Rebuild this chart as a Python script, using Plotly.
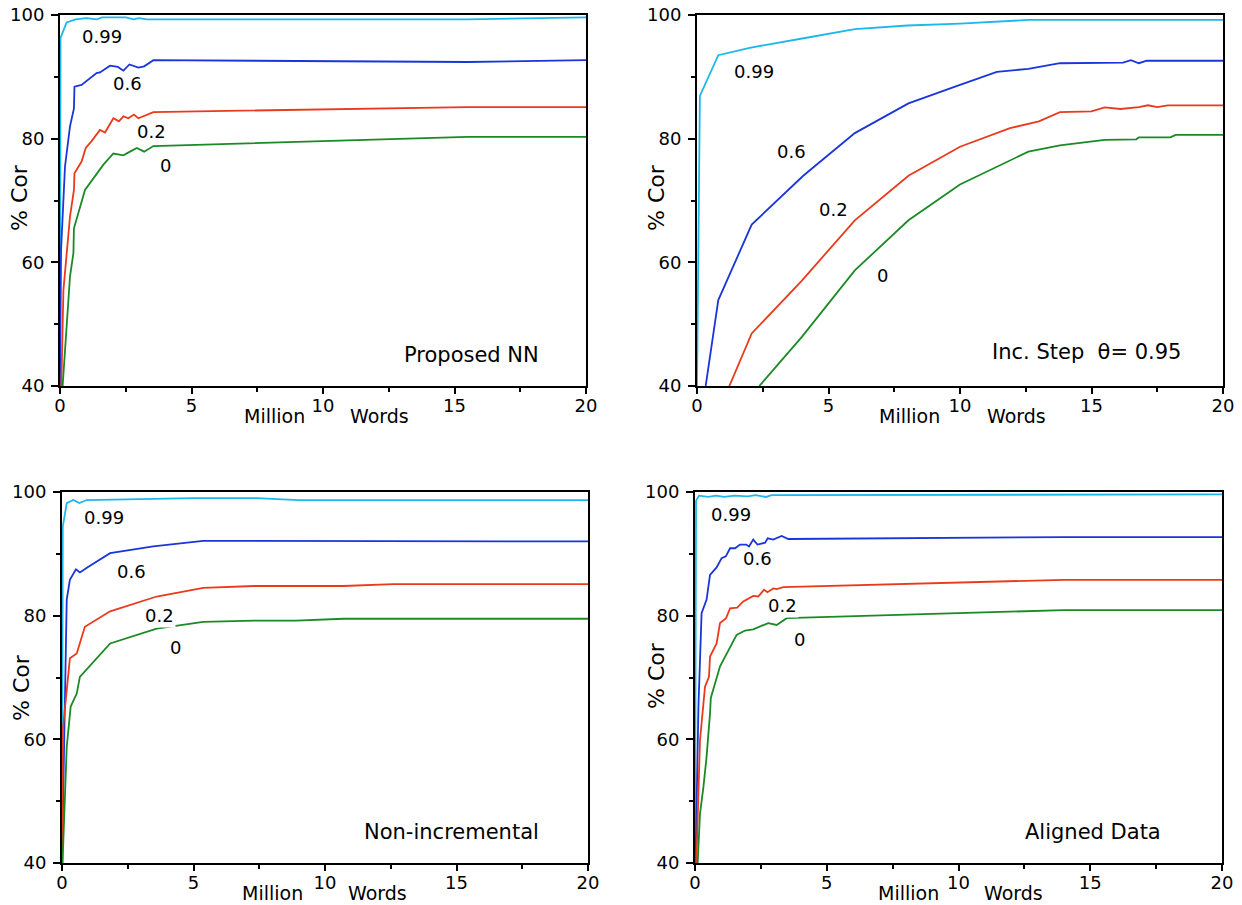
import plotly.graph_objects as go

W, H = 1242, 905
OX, OY = 0, 0            # body margin removed via post_script
FW, FH = W - 2 * OX, H - 2 * OY

# ---------------- data ----------------
series_names = ["0.99", "0.6", "0.2", "0"]
series_colors = ["#1cb8ec", "#1a35d9", "#ea3a1c", "#1a8a25"]
panel_captions = ["Proposed NN", "Inc. Step  \u03b8= 0.95", "Non-incremental", "Aligned Data"]
x_ticks = [0, 5, 10, 15, 20]
x_tick_labels = ["0", "5", "10", "15", "20"]
y_ticks = [40, 60, 80, 100]
y_tick_labels = ["40", "60", "80", "100"]

# Panel 1: Proposed NN
nn_x_099 = [0, 0.02, 0.25, 0.6, 1.0, 1.4, 1.6, 2.5, 2.8, 3.0, 3.3, 15.5, 20]
nn_y_099 = [40, 96.3, 98.8, 99.3, 99.5, 99.3, 99.6, 99.6, 99.3, 99.5, 99.3, 99.3, 99.6]
nn_x_06 = [0, 0.04, 0.19, 0.38, 0.53, 0.55, 0.82, 1.39, 1.52, 1.9, 2.2, 2.41, 2.64, 2.98, 3.2, 3.55, 15.5, 20]
nn_y_06 = [40, 62, 75.5, 82, 84.9, 88.4, 88.7, 90.6, 90.7, 91.8, 91.6, 91.0, 92.0, 91.5, 91.7, 92.7, 92.4, 92.7]
nn_x_02 = [0.05, 0.13, 0.38, 0.53, 0.55, 0.82, 0.98, 1.2, 1.52, 1.71, 2.03, 2.24, 2.41, 2.6, 2.81, 2.98, 3.55, 15.5, 20]
nn_y_02 = [40, 55.5, 67.4, 71.7, 74.4, 76.3, 78.5, 79.6, 81.4, 81.0, 83.3, 82.8, 83.6, 83.3, 83.9, 83.3, 84.3, 85.1, 85.1]
nn_x_0 = [0.1, 0.38, 0.51, 0.53, 0.95, 1.27, 1.65, 2.03, 2.41, 2.66, 2.92, 3.2, 3.55, 15.5, 20]
nn_y_0 = [40, 57.7, 61.5, 65.5, 71.7, 73.6, 75.8, 77.6, 77.3, 77.9, 78.5, 77.9, 78.8, 80.3, 80.3]

# Panel 2: Inc. Step
inc_x_099 = [0, 0.11, 0.81, 2.0, 4.0, 6.0, 8.0, 10, 12.6, 20]
inc_y_099 = [40, 86.9, 93.5, 94.7, 96.2, 97.7, 98.3, 98.6, 99.2, 99.2]
inc_x_06 = [0.33, 0.81, 2.08, 4.04, 6.0, 8.04, 10, 11.4, 12.6, 13.8, 16.2, 16.5, 16.8, 17.1, 20]
inc_y_06 = [40, 53.9, 66.1, 74.0, 80.9, 85.7, 88.7, 90.8, 91.3, 92.2, 92.3, 92.7, 92.2, 92.6, 92.6]
inc_x_02 = [1.23, 2.08, 3.98, 6.0, 8.04, 10, 11.9, 13.0, 13.8, 15.0, 15.5, 16.1, 16.8, 17.15, 17.5, 17.9, 20]
inc_y_02 = [40, 48.5, 57.0, 66.8, 74.0, 78.7, 81.7, 82.8, 84.3, 84.4, 85.05, 84.8, 85.1, 85.4, 85.1, 85.4, 85.4]
inc_x_0 = [2.37, 3.98, 6.0, 8.04, 10, 12.6, 13.8, 15.5, 16.7, 16.8, 18.0, 18.2, 20]
inc_y_0 = [40, 47.9, 58.7, 66.8, 72.6, 77.9, 78.9, 79.8, 79.9, 80.2, 80.2, 80.6, 80.6]

# Panel 3: Non-incremental
ni_x_099 = [0, 0.03, 0.18, 0.43, 0.66, 0.94, 5, 7.4, 9, 20]
ni_y_099 = [40, 94.4, 98.2, 98.7, 98.2, 98.7, 99.0, 99.0, 98.7, 98.7]
ni_x_06 = [0, 0.05, 0.11, 0.18, 0.3, 0.53, 0.68, 0.96, 1.83, 3.47, 5.37, 20]
ni_y_06 = [40, 53.4, 68.5, 82.6, 85.8, 87.5, 87.0, 87.8, 90.1, 91.2, 92.1, 92.0]
ni_x_02 = [0.01, 0.03, 0.3, 0.56, 0.87, 1.83, 3.6, 5.37, 7.3, 10.7, 12.6, 20]
ni_y_02 = [40, 61.5, 73.1, 73.9, 78.2, 80.7, 83.1, 84.5, 84.8, 84.8, 85.1, 85.1]
ni_x_0 = [0.02, 0.1, 0.18, 0.33, 0.56, 0.68, 1.83, 3.6, 5.37, 7.3, 8.9, 10.7, 20]
ni_y_0 = [40, 50, 58.8, 65.3, 67.4, 70.1, 75.5, 77.9, 79.0, 79.2, 79.2, 79.5, 79.5]

# Panel 4: Aligned Data
al_x_099 = [0, 0.04, 0.15, 0.5, 0.8, 1.1, 1.5, 2.0, 2.3, 2.7, 2.9, 20]
al_y_099 = [40, 98.6, 99.4, 99.2, 99.4, 99.2, 99.4, 99.3, 99.5, 99.2, 99.5, 99.6]
al_x_06 = [0.02, 0.13, 0.25, 0.44, 0.57, 0.82, 1.01, 1.17, 1.33, 1.52, 1.71, 1.94, 2.05, 2.21, 2.37, 2.66, 2.76, 2.97, 3.29, 3.54, 14, 20]
al_y_06 = [40, 65.3, 80.4, 82.6, 86.6, 87.8, 89.3, 89.6, 90.9, 90.9, 91.5, 91.5, 91.2, 92.3, 91.5, 91.8, 92.5, 92.3, 92.9, 92.4, 92.7, 92.7]
al_x_02 = [0.05, 0.19, 0.38, 0.53, 0.57, 0.82, 0.95, 1.18, 1.33, 1.6, 1.83, 2.21, 2.4, 2.62, 2.75, 2.97, 3.1, 3.35, 14, 20]
al_y_02 = [40, 59.9, 68.5, 70.1, 73.4, 75.5, 78.8, 79.6, 81.2, 81.3, 82.3, 83.2, 83.1, 84.2, 83.8, 84.4, 84.3, 84.6, 85.8, 85.8]
al_x_0 = [0.1, 0.19, 0.32, 0.44, 0.57, 0.6, 0.95, 1.33, 1.58, 1.9, 2.21, 2.78, 3.1, 3.48, 14, 20]
al_y_0 = [40, 48.0, 52.3, 57.2, 64.2, 66.7, 71.8, 75.0, 76.9, 77.6, 77.8, 78.8, 78.5, 79.6, 80.9, 80.9]

panels_data = [
    [(nn_x_099, nn_y_099), (nn_x_06, nn_y_06), (nn_x_02, nn_y_02), (nn_x_0, nn_y_0)],
    [(inc_x_099, inc_y_099), (inc_x_06, inc_y_06), (inc_x_02, inc_y_02), (inc_x_0, inc_y_0)],
    [(ni_x_099, ni_y_099), (ni_x_06, ni_y_06), (ni_x_02, ni_y_02), (ni_x_0, ni_y_0)],
    [(al_x_099, al_y_099), (al_x_06, al_y_06), (al_x_02, al_y_02), (al_x_0, al_y_0)],
]

# ---------------- layout geometry (screen pixels) ----------------
boxes = [(60, 586, 15, 386), (697, 1223, 15, 386), (62, 588, 492, 863), (695, 1222, 492, 863)]
label_pos = [
    [(1.6, 96.6), (2.55, 88.9), (3.46, 81.1), (4.03, 75.6)],
    [(2.17, 90.8), (3.6, 77.9), (5.2, 68.5), (7.07, 57.9)],
    [(1.6, 95.9), (2.66, 87.2), (3.69, 80.0), (4.33, 74.9)],
    [(1.37, 96.3), (2.39, 89.3), (3.32, 81.7), (3.98, 76.2)],
]
label_bg = [
    [False] * 4,
    [False] * 4,
    [False, False, True, False],
    [False, False, True, False],
]
caption_pos = [(18.29, 45.0), (18.48, 45.5), (18.21, 45.0), (17.76, 45.0)]
million_px = [(274, 416), (909, 416), (272, 893), (908, 893)]
words_px = [(379, 416), (1016, 416), (377, 893), (1013, 893)]
ycor_px = [(19, 198), (656, 198), (21, 688), (656, 676)]


def px_x(x):
    return (x - OX) / FW


def px_y(y):
    return 1 - (y - OY) / FH


FONT = "DejaVu Sans"
fig = go.Figure()
annotations = []
layout_axes = {}

for i in range(4):
    xa = "x" if i == 0 else f"x{i+1}"
    ya = "y" if i == 0 else f"y{i+1}"
    l, r, t, b = boxes[i]
    xkey = "xaxis" if i == 0 else f"xaxis{i+1}"
    ykey = "yaxis" if i == 0 else f"yaxis{i+1}"
    layout_axes[xkey] = dict(
        domain=[px_x(l), px_x(r)], anchor=ya, range=[0, 20], automargin=False,
        tickmode="array", tickvals=x_ticks, ticktext=x_tick_labels,
        ticks="outside", ticklen=6, tickwidth=1.5, tickcolor="black",
        ticklabelstandoff=-4,
        minor=dict(tickvals=[2.5, 7.5, 12.5, 17.5], ticks="outside", ticklen=4, tickwidth=1.5, tickcolor="black"),
        showline=True, linewidth=2, linecolor="black", mirror=True,
        showgrid=False, zeroline=False,
        tickfont=dict(family=FONT, size=18, color="black"),
    )
    layout_axes[ykey] = dict(
        domain=[px_y(b), px_y(t)], anchor=xa, range=[40, 100], automargin=False,
        tickmode="array", tickvals=y_ticks, ticktext=y_tick_labels,
        ticks="outside", ticklen=7, tickwidth=1.5, tickcolor="black",
        ticklabelstandoff=3,
        minor=dict(tickvals=[50, 70, 90], ticks="outside", ticklen=4, tickwidth=1.5, tickcolor="black"),
        showline=True, linewidth=2, linecolor="black", mirror=True,
        showgrid=False, zeroline=False,
        tickfont=dict(family=FONT, size=18, color="black"),
    )
    for s in range(4):
        xs, ys = panels_data[i][s]
        fig.add_trace(go.Scatter(
            x=xs, y=ys, mode="lines", xaxis=xa, yaxis=ya,
            line=dict(color=series_colors[s], width=1.8),
            name=series_names[s], showlegend=False, cliponaxis=True,
        ))
        lx, ly = label_pos[i][s]
        ann = dict(x=lx, y=ly, xref=xa, yref=ya, text=series_names[s], showarrow=False,
                   xanchor="center", yanchor="middle",
                   font=dict(family=FONT, size=18, color="black"))
        if label_bg[i][s]:
            ann["bgcolor"] = "white"
        annotations.append(ann)
    cx, cy = caption_pos[i]
    annotations.append(dict(x=cx, y=cy, xref=xa, yref=ya, text=panel_captions[i], showarrow=False,
                            xanchor="right", yanchor="middle", font=dict(family=FONT, size=21, color="black")))
    mx, my = million_px[i]
    annotations.append(dict(x=px_x(mx), y=px_y(my), xref="paper", yref="paper", text="Million",
                            xanchor="center", yanchor="middle",
                            showarrow=False, font=dict(family=FONT, size=19, color="black")))
    wx, wy = words_px[i]
    annotations.append(dict(x=px_x(wx), y=px_y(wy), xref="paper", yref="paper", text="Words",
                            xanchor="center", yanchor="middle",
                            showarrow=False, font=dict(family=FONT, size=19, color="black")))
    cxp, cyp = ycor_px[i]
    annotations.append(dict(x=px_x(cxp), y=px_y(cyp), xref="paper", yref="paper", text="% Cor",
                            xanchor="center", yanchor="middle",
                            textangle=-90, showarrow=False, font=dict(family=FONT, size=22, color="black")))

fig.update_layout(
    width=FW, height=FH,
    margin=dict(l=0, r=0, t=0, b=0, autoexpand=False),
    paper_bgcolor="white", plot_bgcolor="white",
    showlegend=False,
    annotations=annotations,
    **layout_axes,
)

fig.write_html(
    "out.html",
    config={"displayModeBar": False},
    post_script="document.body.style.margin='0';document.body.style.overflow='hidden';",
)
